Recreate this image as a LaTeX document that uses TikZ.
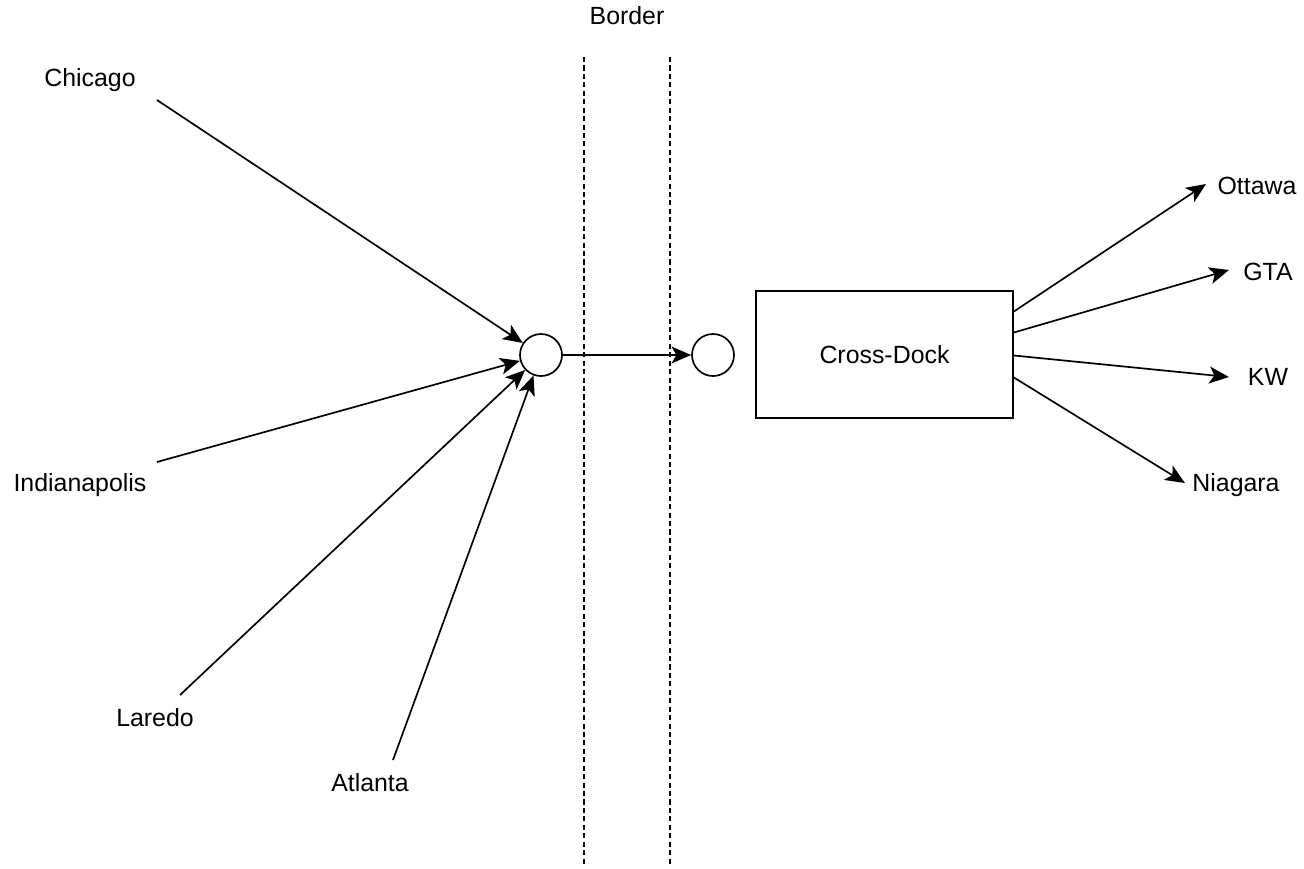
\documentclass[tikz,border=0pt]{standalone}
\usepackage{fontspec}
\setmainfont{Liberation Sans}
\usetikzlibrary{arrows.meta}
\tikzset{
  every picture/.style={line width=1.2pt},
  city/.style={font=\fontsize{17.7}{21}\selectfont, inner sep=0pt},
  hub/.style={draw, circle, fill=white, minimum size=1.05cm, inner sep=0pt},
  dock/.style={draw, fill=white, minimum width=6.425cm, minimum height=3.175cm, font=\fontsize{17.7}{21}\selectfont},
  flow/.style={-{Stealth[length=14pt, width=12pt, inset=3.5pt]}},
  borderline/.style={dash pattern=on 3.6pt off 2.4pt},
}

\begin{document}
\begin{tikzpicture}[x=0.025cm, y=-0.025cm]
  \useasboundingbox (0,0) rectangle (1304,869);
  % border crossing
  \node[city] (border) at (627,16) {Border};
  \draw[borderline] (584,57) -- (584,866);
  \draw[borderline] (670,57) -- (670,866);
  % hubs on both sides and the cross-dock
  \node[hub] (hubus) at (541,355) {};
  \node[hub] (hubca) at (713,355) {};
  \node[dock] (xdock) at (884.5,354.5) {Cross-Dock};
  \draw[flow] (hubus) -- (hubca);
  % origins
  \foreach \name/\lx/\ly/\label/\sx/\sy in {chicago/90/80/Chicago/157/100, indy/80/485/Indianapolis/157/462, laredo/155/718/Laredo/180/695, atlanta/370/783/Atlanta/393/760} {
    \node[city] (\name) at (\lx,\ly) {\label};
    \coordinate (\name-out) at (\sx,\sy);
    \draw[flow] (\name-out) -- (hubus);
  }
  % destinations
  \foreach \name/\lx/\ly/\label/\dy/\tx/\ty in {ottawa/1257/186/Ottawa/-43/1206/184, gta/1268/272/GTA/-22/1229/270, kw/1268/377/KW/1/1229/377, niagara/1236/485/Niagara/23/1185/483} {
    \node[city] (\name) at (\lx,\ly) {\label};
    \coordinate (\name-in) at (\tx,\ty);
    \draw[flow] ([yshift=-\dy*0.025cm]xdock.east) -- (\name-in);
  }
\end{tikzpicture}
\end{document}
